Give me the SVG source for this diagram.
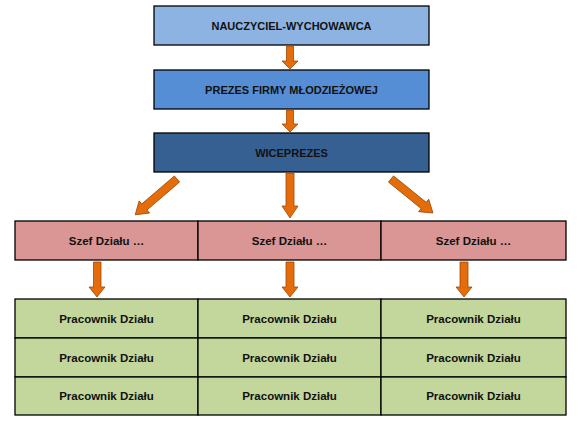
<svg xmlns="http://www.w3.org/2000/svg" width="579" height="430" viewBox="0 0 579 430">
<style>
.box{stroke:#000;stroke-width:1.3}
.t{font-family:"Liberation Sans",Arial,sans-serif;font-weight:bold;font-size:11px;fill:#111;text-anchor:middle}
.s{font-size:11.5px}
.arr{fill:#E46C0A;stroke:#9C4A06;stroke-width:0.8}
.pink{fill:#D99694}
.green{fill:#C3D69B}
</style>
<rect width="579" height="430" fill="#fff"/>
<g id="nauczyciel"><rect class="box" x="154" y="6" width="275" height="39" fill="#8DB3E2"/><text class="t" x="291.5" y="29.5">NAUCZYCIEL-WYCHOWAWCA</text></g>
<g id="prezes"><rect class="box" x="154" y="70" width="275" height="39" fill="#558ED5"/><text class="t" x="291.5" y="93.5">PREZES FIRMY MŁODZIEŻOWEJ</text></g>
<g id="wiceprezes"><rect class="box" x="154" y="133" width="275" height="39" fill="#376092"/><text class="t" x="291.5" y="156.5">WICEPREZES</text></g>
<g id="szef1"><rect class="box pink" x="15" y="221" width="183" height="39"/><text class="t s" x="106.5" y="244.5">Szef Działu …</text></g>
<g id="szef2"><rect class="box pink" x="198" y="221" width="183" height="39"/><text class="t s" x="289.5" y="244.5">Szef Działu …</text></g>
<g id="szef3"><rect class="box pink" x="381" y="221" width="185" height="39"/><text class="t s" x="473.5" y="244.5">Szef Działu …</text></g>
<g id="p11"><rect class="box green" x="15" y="299" width="183" height="39"/><text class="t s" x="106.5" y="322.5">Pracownik Działu</text></g>
<g id="p21"><rect class="box green" x="15" y="338" width="183" height="39"/><text class="t s" x="106.5" y="361.5">Pracownik Działu</text></g>
<g id="p31"><rect class="box green" x="15" y="377" width="183" height="38"/><text class="t s" x="106.5" y="400">Pracownik Działu</text></g>
<g id="p12"><rect class="box green" x="198" y="299" width="183" height="39"/><text class="t s" x="289.5" y="322.5">Pracownik Działu</text></g>
<g id="p22"><rect class="box green" x="198" y="338" width="183" height="39"/><text class="t s" x="289.5" y="361.5">Pracownik Działu</text></g>
<g id="p32"><rect class="box green" x="198" y="377" width="183" height="38"/><text class="t s" x="289.5" y="400">Pracownik Działu</text></g>
<g id="p13"><rect class="box green" x="381" y="299" width="185" height="39"/><text class="t s" x="473.5" y="322.5">Pracownik Działu</text></g>
<g id="p23"><rect class="box green" x="381" y="338" width="185" height="39"/><text class="t s" x="473.5" y="361.5">Pracownik Działu</text></g>
<g id="p33"><rect class="box green" x="381" y="377" width="185" height="38"/><text class="t s" x="473.5" y="400">Pracownik Działu</text></g>
<g id="connectors">
<polygon class="arr" points="286.5,46 293.5,46 293.5,61 298,61 290,69 282,61 286.5,61"/>
<polygon class="arr" points="286.5,110 293.5,110 293.5,124 298,124 290,132 282,124 286.5,124"/>
<polygon class="arr" points="286,173 294,173 294,206 298,206 290,218 282,206 286,206"/>
<polygon class="arr" transform="translate(177,179) rotate(139.4)" points="0,-4 43,-4 43,-8 55,0 43,8 43,4 0,4"/>
<polygon class="arr" transform="translate(391,179) rotate(39)" points="0,-4 42,-4 42,-8 54,0 42,8 42,4 0,4"/>
<polygon class="arr" points="93.5,262 101,262 101,287 105,287 97,297 89,287 93.5,287"/>
<polygon class="arr" points="286,262 294,262 294,287 298,287 290,297 282,287 286,287"/>
<polygon class="arr" points="460,262 468,262 468,287 472,287 464,297 456,287 460,287"/>
</g>
</svg>
